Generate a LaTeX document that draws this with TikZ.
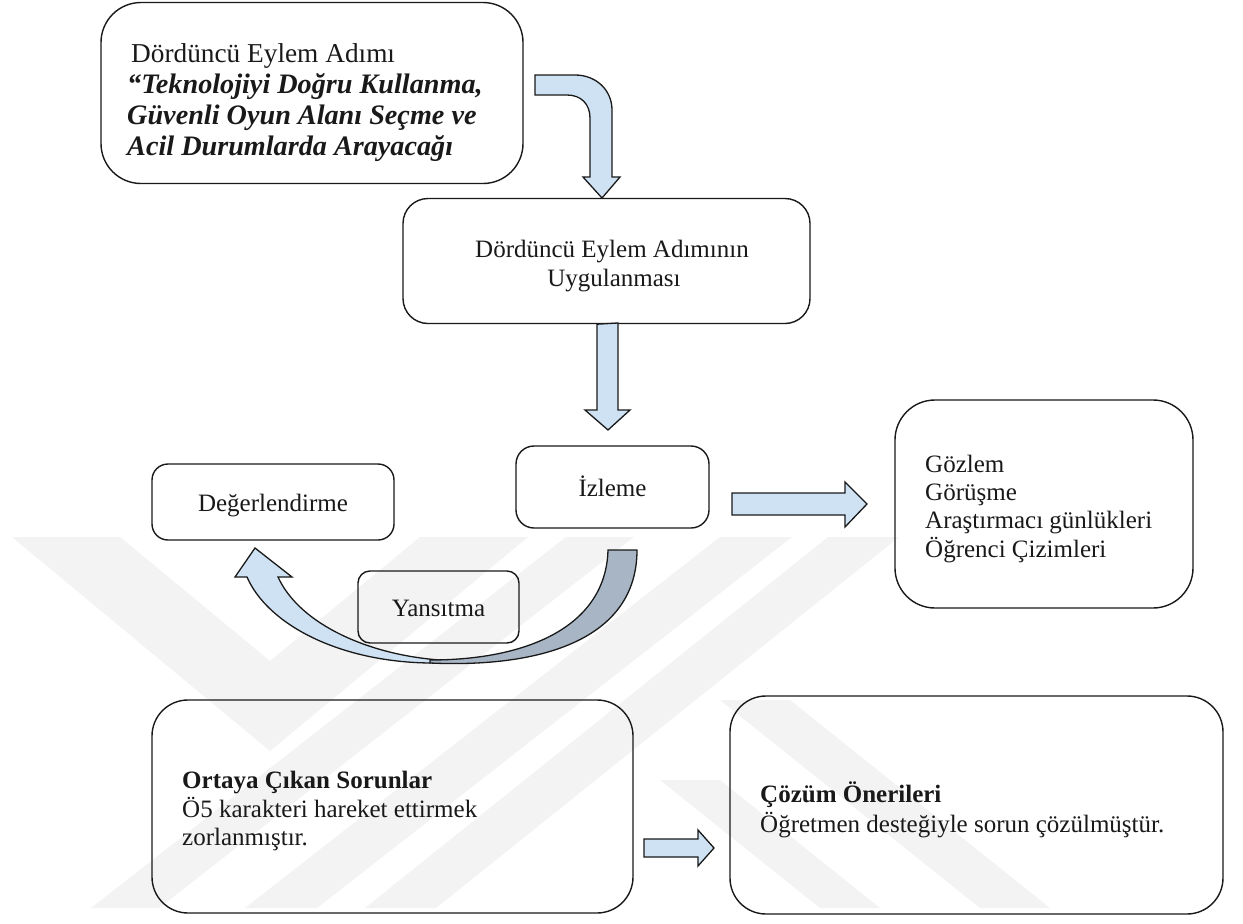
\documentclass[tikz,border=0pt]{standalone}
\usepackage{fontspec}
\setmainfont{Liberation Serif}
\definecolor{ink}{RGB}{25,25,25}
\definecolor{arrowfill}{RGB}{207,226,243}
\definecolor{arrowdark}{RGB}{167,181,196}
\definecolor{emblemgrey}{RGB}{243,243,243}
\tikzset{
  box/.style={draw=ink, line width=1.4pt, rectangle},
  blockarrow/.style={draw=ink, line width=1.3pt, fill=arrowfill, line join=miter},
  emblem/.style={fill=emblemgrey},
  lbl/.style={inner sep=0pt, text=ink, font=\fontsize{25}{28.6}\selectfont},
  lblb/.style={lbl, font=\fontsize{25}{28.6}\selectfont\bfseries},
  head/.style={inner sep=0pt, text=ink, font=\fontsize{27.3}{31}\selectfont},
  headbi/.style={head, font=\fontsize{28.2}{31}\selectfont\bfseries\itshape},
}
\begin{document}
\begin{tikzpicture}[x=1pt,y=-1pt]
\useasboundingbox (0,0) rectangle (1243,924);
\fill[white] (0,0) rectangle (1243,924);

% faint background emblem
\fill[emblem] (12,537) -- (120,537) -- (270,661) -- (420,537) -- (528,537) -- (270,751) -- cycle;
\fill[emblem] (91,908) -- (159,908) -- (634,537) -- (566,537) -- cycle;
\fill[emblem] (245,908) -- (317,908) -- (792,537) -- (720,537) -- cycle;
\fill[emblem] (365,908) -- (436,908) -- (899,537) -- (828,537) -- cycle;
\fill[emblem] (720,700) -- (790,700) -- (1050,908) -- (980,908) -- cycle;
\fill[emblem] (660,780) -- (720,780) -- (880,908) -- (820,908) -- cycle;

% boxes
\node[box, rounded corners=40pt, minimum width=422pt, minimum height=181pt] (act) at (312,93) {};
\node[box, rounded corners=25pt, minimum width=407pt, minimum height=125pt] (apply) at (606.5,261) {};
\node[box, rounded corners=18pt, minimum width=193pt, minimum height=82pt] (watch) at (612.5,487) {};
\node[box, rounded corners=16pt, minimum width=242pt, minimum height=76pt] (eval) at (273,502) {};
\node[box, rounded corners=40pt, minimum width=298pt, minimum height=208pt] (tools) at (1044,504) {};
\node[box, rounded corners=12pt, minimum width=161pt, minimum height=72pt] (refl) at (438.5,607) {};
\node[box, rounded corners=36pt, minimum width=481pt, minimum height=213pt] (prob) at (392.5,806.5) {};
\node[box, rounded corners=36pt, minimum width=493pt, minimum height=218pt] (sol) at (976.5,805) {};

% bent arrow from the first box down to the second
\draw[blockarrow] (535,75) -- (575,75)
  .. controls (596,75) and (612,90) .. (612,110)
  -- (612,177) -- (620,177) -- (602,198) coordinate (bendtip) -- (583,177) -- (590,177)
  -- (590,118) .. controls (590,104) and (581,95) .. (567,95)
  -- (535,95) -- cycle;

% straight arrow down to the monitoring box
\draw[blockarrow] (apply.south -| 597,0) -- (618,323) -- (618,410) -- (630,410)
  -- (608,430) -- (585,410) -- (597,410) -- cycle;

% arrow to the data sources
\draw[blockarrow] (732,493) -- (845,493) -- (845,482) -- (867,504) -- (845,527)
  -- (845,515) -- (732,515) -- cycle;

% arrow between problems and solutions
\draw[blockarrow] (644,839) -- (698,839) -- (698,830) -- (714,848) -- (698,866)
  -- (698,857) -- (644,857) -- cycle;

% curved reflection arrow: light front part with head
\draw[blockarrow] (430,663) .. controls (340,662) and (268,625) .. (247,577)
  -- (235,577) -- (255,548) -- (292,577) -- (278,577)
  .. controls (300,625) and (370,655) .. (440,660) -- cycle;
% dark back part of the ribbon
\draw[draw=ink, line width=1.3pt, fill=arrowdark, line join=miter]
  (430,663) .. controls (540,668) and (637,640) .. (637,550)
  -- (608,550) .. controls (606,625) and (530,660) .. (430,660) -- cycle;

% texts
\node[head, anchor=base west] (a1) at (131,62) {Dördüncü Eylem Adımı};
\node[headbi, anchor=base west] (a2) at (127,93) {“Teknolojiyi Doğru Kullanma,};
\node[headbi, anchor=base west] (a3) at (127,124) {Güvenli Oyun Alanı Seçme ve};
\node[headbi, anchor=base west] (a4) at (127,155) {Acil Durumlarda Arayacağı};

\node[lbl, anchor=base] (p1) at (612,257) {Dördüncü Eylem Adımının};
\node[lbl, anchor=base] (p2) at (614,286) {Uygulanması};

\node[lbl, anchor=base] (w1) at (watch.center |- 0,496) {İzleme};
\node[lbl, anchor=base] (e1) at (eval.center |- 0,511) {Değerlendirme};
\node[lbl, anchor=base] (r1) at (refl.center |- 0,616) {Yansıtma};

\node[lbl, anchor=base west] (g1) at (925,472) {Gözlem};
\node[lbl, anchor=base west] (g2) at (925,500) {Görüşme};
\node[lbl, anchor=base west] (g3) at (925,528) {Araştırmacı günlükleri};
\node[lbl, anchor=base west] (g4) at (925,557) {Öğrenci Çizimleri};

\node[lblb, anchor=base west] (o1) at (182,788) {Ortaya Çıkan Sorunlar};
\node[lbl, anchor=base west] (o2) at (182,817) {Ö5 karakteri hareket ettirmek};
\node[lbl, anchor=base west] (o3) at (182,845) {zorlanmıştır.};

\node[lblb, anchor=base west] (c1) at (760,802) {Çözüm Önerileri};
\node[lbl, anchor=base west] (c2) at (760,832) {Öğretmen desteğiyle sorun çözülmüştür.};
\end{tikzpicture}
\end{document}
